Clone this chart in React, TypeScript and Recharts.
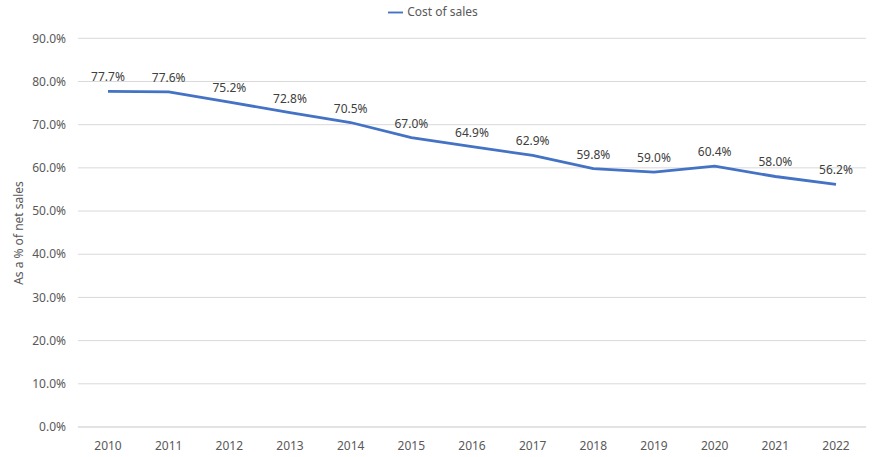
import { LineChart, Line, XAxis, YAxis, CartesianGrid, Legend, LabelList } from "recharts";

const years = ["2010", "2011", "2012", "2013", "2014", "2015", "2016", "2017", "2018", "2019", "2020", "2021", "2022"];
const costOfSales = [77.7, 77.6, 75.2, 72.8, 70.5, 67.0, 64.9, 62.9, 59.8, 59.0, 60.4, 58.0, 56.2];
const yTicks = [0, 10, 20, 30, 40, 50, 60, 70, 80, 90];

const data = years.map((year, i) => ({ year, cost: costOfSales[i] }));

const font = "'Noto Sans', 'Open Sans', sans-serif";

function YLabel() {
  return (
    <text
      x={18}
      y={233}
      transform="rotate(-90, 18, 233)"
      textAnchor="middle"
      dominantBaseline="central"
      fontSize={12}
      fill="#595959"
      fontFamily={font}
    >
      As a % of net sales
    </text>
  );
}

export default function App() {
  return (
    <div style={{ position: "absolute", left: 0, top: 0, fontFamily: font }}>
      <LineChart width={876} height={457} data={data} margin={{ top: 21, right: 10, left: 0, bottom: 0 }}>
        <CartesianGrid vertical={false} stroke="#d9d9d9" />
        <XAxis
          dataKey="year"
          padding={{ left: 30, right: 30 }}
          axisLine={{ stroke: "#d9d9d9" }}
          tickLine={false}
          tickSize={0}
          tickMargin={14}
          height={30}
          tick={{ fontSize: 12, fill: "#595959", fontFamily: font }}
        />
        <YAxis
          domain={[0, 90]}
          ticks={yTicks}
          width={78}
          axisLine={false}
          tickLine={false}
          tickSize={0}
          tickMargin={12}
          tickFormatter={(v) => v.toFixed(1) + "%"}
          tick={{ fontSize: 12, fill: "#595959", fontFamily: font }}
          label={<YLabel />}
        />
        <Legend
          verticalAlign="top"
          align="center"
          iconType="plainline"
          iconSize={15}
          wrapperStyle={{ top: 3, left: 0, width: 876, fontSize: 12, color: "#595959" }}
          formatter={(v) => <span style={{ color: "#595959" }}>{v}</span>}
        />
        <Line
          type="linear"
          dataKey="cost"
          name="Cost of sales"
          stroke="#4472C4"
          strokeWidth={2.8}
          dot={false}
          isAnimationActive={false}
        >
          <LabelList
            dataKey="cost"
            position="top"
            offset={10}
            formatter={(v: number) => v.toFixed(1) + "%"}
            style={{ fontSize: 12, fill: "#404040", fontFamily: font }}
          />
        </Line>
      </LineChart>
    </div>
  );
}
